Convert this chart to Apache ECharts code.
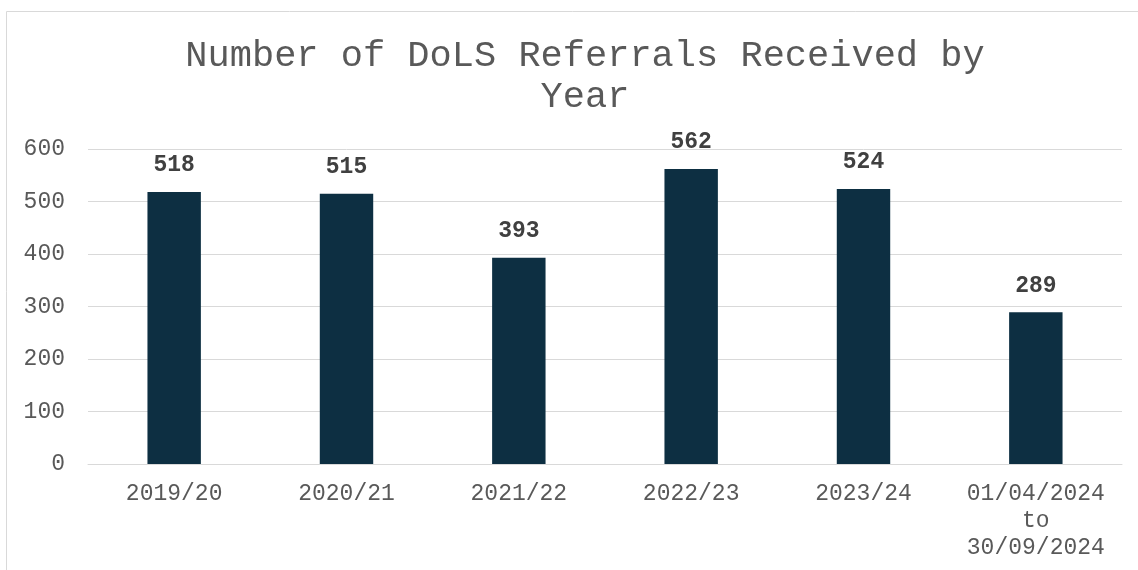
<!DOCTYPE html>
<html>
<head>
<meta charset="utf-8">
<script src="https://cdn.jsdelivr.net/npm/echarts@6/dist/echarts.min.js"></script>
<style>
  html, body { margin: 0; padding: 0; background: #fff; }
  #main { width: 1138px; height: 570px; }
</style>
</head>
<body>
<div id="main"></div>
<script>
// referrals per year
const categories = ['2019/20', '2020/21', '2021/22', '2022/23', '2023/24', '01/04/2024\nto\n30/09/2024'];
const referrals = [518, 515, 393, 562, 524, 289];
const yTicks = { min: 0, max: 600, interval: 100 };

const fontMono = '"Liberation Mono", "Courier New", monospace';

const chart = echarts.init(document.getElementById('main'));
chart.setOption({
  animation: false,
  title: {
    text: 'Number of DoLS Referrals Received by\nYear',
    left: 580,
    top: 31,
    textAlign: 'center',
    textStyle: {
      fontFamily: fontMono,
      fontSize: 37,
      fontWeight: 'normal',
      color: '#595959',
      lineHeight: 41,
    },
  },
  // outer chart frame, only top/left edges visible in the crop
  graphic: [
    {
      type: 'rect',
      shape: { x: 6.5, y: 11.5, width: 1200, height: 600 },
      style: { fill: 'none', stroke: '#d9d9d9', lineWidth: 1 },
      silent: true,
    },
  ],
  grid: { left: 88, right: 16, top: 149, bottom: 106 },
  xAxis: {
    type: 'category',
    data: categories,
    axisTick: { show: false },
    axisLine: { lineStyle: { color: '#d9d9d9', width: 1 } },
    axisLabel: {
      interval: 0,
      margin: 16,
      fontFamily: fontMono,
      fontSize: 23,
      color: '#595959',
      lineHeight: 27,
    },
  },
  yAxis: {
    type: 'value',
    min: yTicks.min,
    max: yTicks.max,
    interval: yTicks.interval,
    axisLine: { show: false },
    axisTick: { show: false },
    splitLine: { lineStyle: { color: '#d9d9d9', width: 1 } },
    axisLabel: {
      margin: 23,
      fontFamily: fontMono,
      fontSize: 23,
      color: '#595959',
    },
  },
  series: [
    {
      type: 'bar',
      data: referrals,
      barWidth: '31%',
      itemStyle: { color: '#0d2f42' },
      label: {
        show: true,
        position: 'top',
        distance: 15,
        fontFamily: fontMono,
        fontSize: 23,
        fontWeight: 'bold',
        color: '#404040',
      },
    },
  ],
});
</script>
</body>
</html>
